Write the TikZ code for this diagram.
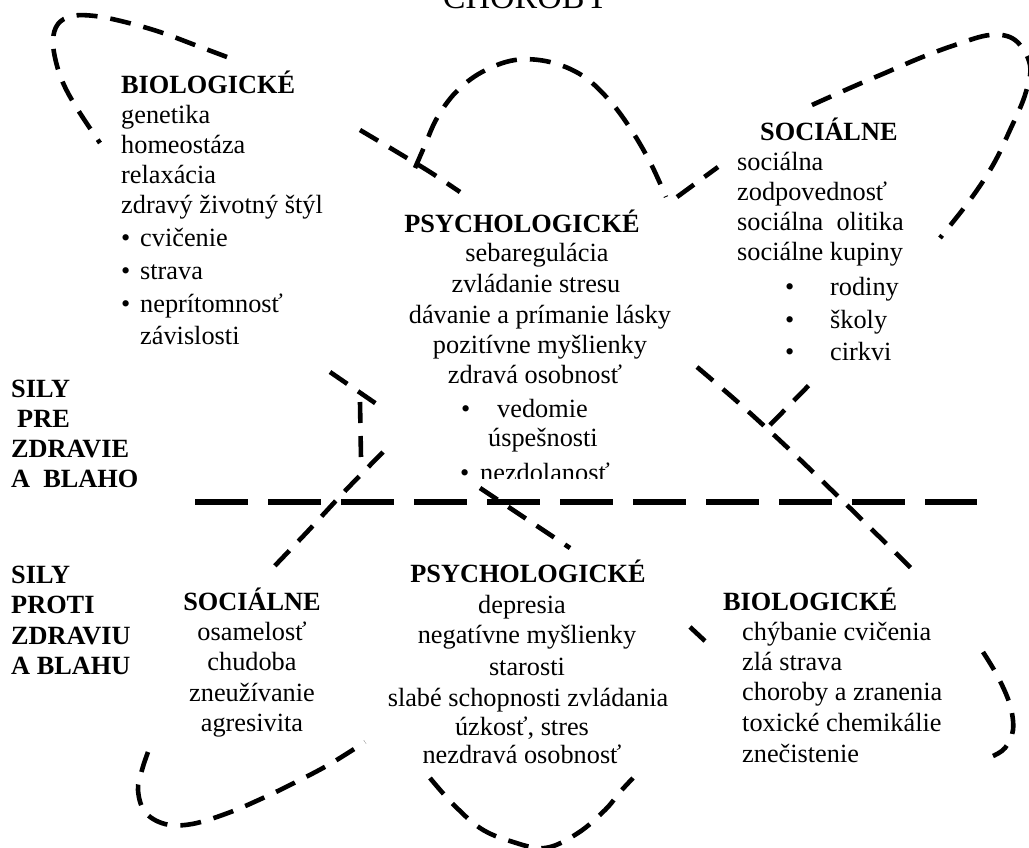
\documentclass[tikz,border=0pt]{standalone}
\usepackage{fontspec}
\setmainfont{Liberation Serif}
\begin{document}
\begin{tikzpicture}[x=1pt,y=-1pt,
  txt/.style={inner sep=0pt, font=\fontsize{26.3}{30}\selectfont},
  hd/.style={inner sep=0pt, font=\fontsize{26.3}{30}\selectfont\bfseries},
  dsh/.style={line width=4.6pt, dash pattern=on 21pt off 13pt},
  axisline/.style={line width=6.5pt, dash pattern=on 53pt off 20pt}]
\useasboundingbox (0,0) rectangle (1029,847);
\fill[white] (0,0) rectangle (1029,847);

% ---------- dashed curves ----------
\draw[dsh] plot[smooth, tension=0.6] coordinates {(227,57) (195,45) (160,32) (125,22) (95,16) (72,16) (58,24) (53,40) (56,62) (64,85) (78,110) (100,143)};
\draw[dsh] plot[smooth] coordinates {(360,130) (397,152) (430,172) (460,192)};
\draw[dsh] plot[smooth] coordinates {(697,367) (740,404) (790,450) (850,508) (915,572)};
\draw[dsh] plot[smooth, tension=0.6] coordinates {(415,168) (425,145) (437,118) (456,92) (482,72) (515,60) (550,62) (583,76) (610,101) (632,131) (651,164) (666,197)};
\draw[dsh] (677,197) -- (718,167);
\draw[dsh] plot[smooth, tension=0.6] coordinates {(812,105) (850,88) (885,73) (920,58) (955,45) (990,35) (1015,40) (1030,65) (1025,95) (1010,130) (993,165) (970,200) (940,238)};
\draw[dsh] (770,425) -- (817,377);
\draw[dsh] (330,372) -- (378,405);
\draw[dsh] (480,488) -- (570,548);
\draw[dsh] (690,627) -- (705,641);
\draw[dsh] (360,402) -- (361,458);
\draw[dsh] plot[smooth] coordinates {(383,452) (345,491) (308,531) (267,574)};
\draw[dsh] plot[smooth, tension=0.6] coordinates {(148,752) (142,770) (138,790) (145,812) (165,824) (192,824) (228,813) (263,798) (296,782) (330,764) (365,742)};
\draw[dsh] plot[smooth, tension=0.6] coordinates {(430,778) (452,803) (480,828) (510,841) (545,848) (578,833) (605,810) (620,792) (633,778)};
\draw[dsh] plot[smooth, tension=0.6] coordinates {(983,652) (998,677) (1010,705) (1013,730) (1005,748) (993,756)};
\draw[axisline] (195,502) -- (977,502);

% ---------- heading ----------
\node[txt, font=\fontsize{34}{40}\selectfont, anchor=base] (chor) at (526,8) {CHOROBY};

% ---------- upper left: BIOLOGICKE ----------
\node[hd, anchor=base west] (b0) at (121,93) {BIOLOGICKÉ};
\node[txt, anchor=base west] (b1) at (121,123) {genetika};
\node[txt, anchor=base west] (b2) at (121,153) {homeostáza};
\node[txt, anchor=base west] (b3) at (121,183) {relaxácia};
\node[txt, anchor=base west] (b4) at (121,213) {zdravý životný štýl};
\node[txt, anchor=base west] (b5) at (121,246) {\makebox[19pt][l]{•}cvičenie};
\node[txt, anchor=base west] (b6) at (121,279) {\makebox[19pt][l]{•}strava};
\node[txt, anchor=base west] (b7) at (121,312) {\makebox[19pt][l]{•}neprítomnosť};
\node[txt, anchor=base west] (b8) at (140,344) {závislosti};

% ---------- upper centre: PSYCHOLOGICKE ----------
\node[hd, anchor=base] (p0) at (522,232) {PSYCHOLOGICKÉ};
\node[txt, anchor=base] (p1) at (537,261) {sebaregulácia};
\node[txt, anchor=base] (p2) at (536,292) {zvládanie stresu};
\node[txt, anchor=base] (p3) at (540,323) {dávanie a prímanie lásky};
\node[txt, anchor=base] (p4) at (540,353) {pozitívne myšlienky};
\node[txt, anchor=base] (p5) at (535,383) {zdravá osobnosť};
\node[txt, anchor=base west] (p6) at (461,417) {\makebox[36pt][l]{•}vedomie};
\node[txt, anchor=base west] (p7) at (488,446) {úspešnosti};
\begin{scope}
\clip (440,440) rectangle (640,478);
\node[txt, anchor=base west] (p8) at (460,481) {\makebox[20pt][l]{•}nezdolanosť};
\end{scope}

% ---------- upper right: SOCIALNE ----------
\node[hd, anchor=base west] (s0) at (760,140) {SOCIÁLNE};
\node[txt, anchor=base west] (s1) at (737,170) {sociálna};
\node[txt, anchor=base west] (s2) at (737,200) {zodpovednosť};
\node[txt, anchor=base west] (s3) at (737,230) {sociálna~~olitika};
\node[txt, anchor=base west] (s4) at (737,260) {sociálne kupiny};
\node[txt, anchor=base west] (s5) at (785,295) {\makebox[45pt][l]{•}rodiny};
\node[txt, anchor=base west] (s6) at (785,328) {\makebox[45pt][l]{•}školy};
\node[txt, anchor=base west] (s7) at (785,360) {\makebox[45pt][l]{•}cirkvi};

% ---------- left labels ----------
\node[hd, anchor=base west] (l1) at (11,397) {SILY};
\node[hd, anchor=base west] (l2) at (17,427) {PRE};
\node[hd, anchor=base west] (l3) at (11,457) {ZDRAVIE};
\node[hd, anchor=base west] (l4) at (11,487) {A~~BLAHO};
\node[hd, anchor=base west] (l5) at (11,583) {SILY};
\node[hd, anchor=base west] (l6) at (11,613) {PROTI};
\node[hd, anchor=base west] (l7) at (11,644) {ZDRAVIU};
\node[hd, anchor=base west] (l8) at (11,674) {A BLAHU};

% ---------- lower left: SOCIALNE ----------
\node[hd, anchor=base] (q0) at (252,610) {SOCIÁLNE};
\node[txt, anchor=base] (q1) at (252,640) {osamelosť};
\node[txt, anchor=base] (q2) at (252,670) {chudoba};
\node[txt, anchor=base] (q3) at (252,701) {zneužívanie};
\node[txt, anchor=base] (q4) at (252,731) {agresivita};

% ---------- lower centre: PSYCHOLOGICKE ----------
\node[hd, anchor=base] (r0) at (528,582) {PSYCHOLOGICKÉ};
\node[txt, anchor=base] (r1) at (522,613) {depresia};
\node[txt, anchor=base] (r2) at (527,643) {negatívne myšlienky};
\node[txt, anchor=base] (r3) at (527,675) {starosti};
\node[txt, anchor=base] (r4) at (528,706) {slabé schopnosti zvládania};
\node[txt, anchor=base] (r5) at (522,735) {úzkosť, stres};
\node[txt, anchor=base] (r6) at (522,763) {nezdravá osobnosť};

% ---------- lower right: BIOLOGICKE ----------
\node[hd, anchor=base west] (t0) at (723,610) {BIOLOGICKÉ};
\node[txt, anchor=base west] (t1) at (742,640) {chýbanie cvičenia};
\node[txt, anchor=base west] (t2) at (742,670) {zlá strava};
\node[txt, anchor=base west] (t3) at (742,700) {choroby a zranenia};
\node[txt, anchor=base west] (t4) at (742,731) {toxické chemikálie};
\node[txt, anchor=base west] (t5) at (742,762) {znečistenie};
\end{tikzpicture}
\end{document}
